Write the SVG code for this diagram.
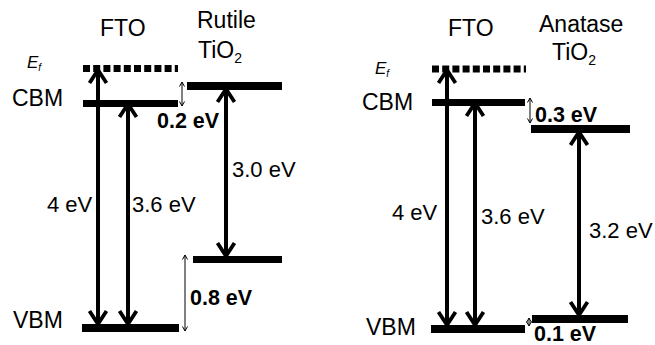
<svg xmlns="http://www.w3.org/2000/svg" width="655" height="345" viewBox="0 0 655 345">
<style>
text{font-family:"Liberation Sans",Arial,sans-serif;font-size:22px;fill:#000}
.lab{font-size:23px}
.b{font-weight:bold;font-size:21.5px}
.ef{font-style:italic;font-size:17px}
.sub{font-size:14px}
.lvl{fill:#000}
.dash{stroke:#000;stroke-width:7;stroke-dasharray:7 3.2;fill:none}
.thick{stroke:#000;stroke-width:4;fill:none;marker-start:url(#h);marker-end:url(#h)}
.thin{stroke:#000;stroke-width:1;fill:none;marker-start:url(#s);marker-end:url(#s)}
</style>
<defs>
<marker id="h" viewBox="-15 -10 17 20" refX="0" refY="0" markerUnits="userSpaceOnUse" markerWidth="17" markerHeight="20" orient="auto-start-reverse" overflow="visible">
<path d="M-13,-8.5 L0,0 L-13,8.5" fill="none" stroke="#000" stroke-width="3.8"/>
</marker>
<marker id="s" viewBox="-6 -4 7 8" refX="0" refY="0" markerUnits="userSpaceOnUse" markerWidth="7" markerHeight="8" orient="auto-start-reverse" overflow="visible">
<path d="M-4.5,-2.5 L0,0 L-4.5,2.5" fill="none" stroke="#000" stroke-width="1"/>
</marker>
</defs>
<rect width="655" height="345" fill="#fff"/>

<g id="left-labels">
<text x="100" y="36" class="lab">FTO</text>
<text x="197" y="28" class="lab">Rutile</text>
<text x="198" y="58" class="lab">TiO<tspan class="sub" dy="5">2</tspan></text>
<text x="27" y="68" class="ef">E<tspan dy="3" font-size="10">f</tspan></text>
<text x="12" y="106" class="lab">CBM</text>
<text x="13" y="328" class="lab">VBM</text>
</g>
<g id="left-fto-ef"><line class="dash" x1="83" y1="68.5" x2="178" y2="68.5"/></g>
<g id="left-fto-cbm"><rect class="lvl" x="83" y="100" width="95" height="7"/></g>
<g id="left-fto-vbm"><rect class="lvl" x="82" y="324" width="97" height="8"/></g>
<g id="left-rutile-cb"><rect class="lvl" x="187" y="82" width="95" height="8"/></g>
<g id="left-rutile-vb"><rect class="lvl" x="193" y="256" width="89" height="7"/></g>

<g id="right-labels">
<text x="448" y="36" class="lab">FTO</text>
<text x="539" y="32" class="lab">Anatase</text>
<text x="552" y="60" class="lab">TiO<tspan class="sub" dy="5">2</tspan></text>
<text x="375" y="74" class="ef">E<tspan dy="3" font-size="10">f</tspan></text>
<text x="362" y="110" class="lab">CBM</text>
<text x="366" y="335" class="lab">VBM</text>
</g>
<g id="right-fto-ef"><line class="dash" x1="432" y1="69" x2="526" y2="69"/></g>
<g id="right-fto-cbm"><rect class="lvl" x="432" y="99" width="93" height="7"/></g>
<g id="right-fto-vbm"><rect class="lvl" x="431" y="325" width="94" height="8"/></g>
<g id="right-anatase-cb"><rect class="lvl" x="531" y="125" width="99" height="8"/></g>
<g id="right-anatase-vb"><rect class="lvl" x="532" y="315" width="96" height="8"/></g>

<g id="connectors">
<line class="thick" x1="98" y1="70" x2="98" y2="324"/>
<line class="thick" x1="128" y1="104" x2="128" y2="324"/>
<line class="thick" x1="226" y1="89" x2="226" y2="256"/>
<line class="thin" x1="182" y1="82" x2="182" y2="106"/>
<line class="thin" x1="185" y1="255" x2="185" y2="331"/>
<line class="thick" x1="447" y1="70" x2="447" y2="325"/>
<line class="thick" x1="475" y1="103" x2="475" y2="325"/>
<line class="thick" x1="579" y1="132" x2="579" y2="315"/>
<line class="thin" x1="530" y1="98" x2="530" y2="123"/>
<line class="thin" x1="529" y1="318" x2="529" y2="326"/>
</g>

<g id="energy-labels">
<text x="47" y="212">4 eV</text>
<text x="132" y="212">3.6 eV</text>
<text x="232" y="177">3.0 eV</text>
<text x="157" y="128" class="b">0.2 eV</text>
<text x="190" y="305" class="b">0.8 eV</text>
<text x="392" y="220">4 eV</text>
<text x="481" y="224">3.6 eV</text>
<text x="589" y="238">3.2 eV</text>
<text x="535" y="122" class="b">0.3 eV</text>
<text x="534" y="341" class="b">0.1 eV</text>
</g>
</svg>
